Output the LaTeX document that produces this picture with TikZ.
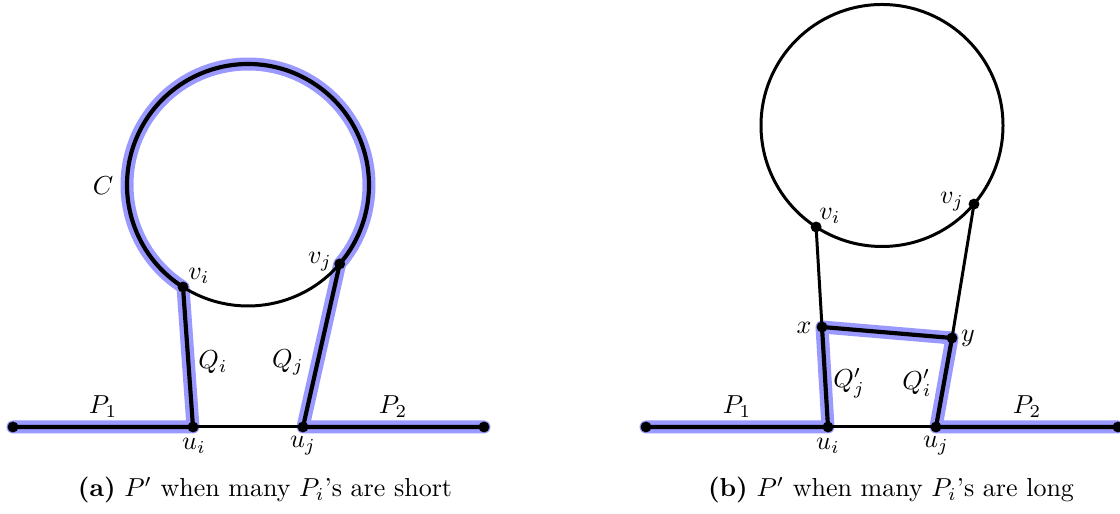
\documentclass[tikz,border=0pt]{standalone}
\usetikzlibrary{calc}
\pgfdeclarelayer{bg}
\pgfsetlayers{bg,main}
\definecolor{hlblue}{RGB}{153,153,255}
\begin{document}
\begin{tikzpicture}[x=0.3846pt,y=-0.3846pt,
  vtx/.style={circle,fill=black,inner sep=0pt,minimum size=4.2pt},
  hl/.style={draw=hlblue,line width=5pt,line join=round,line cap=round},
  ppath/.style={draw=black,line width=1.6pt,line join=round},
  edge/.style={draw=black,line width=1.15pt},
  lbl/.style={inner sep=0pt}]
\useasboundingbox (0,0) rectangle (1120,514);

% ---------- left panel ----------
\coordinate (Lc) at (248,185);
\node[vtx] (La) at (13,427) {};
\node[vtx] (Lb) at (484,427) {};
\node[vtx] (Lui) at (193,427) {};
\node[vtx] (Luj) at (303,427) {};
\node[vtx] (Lvi) at ($(Lc)+(122.5:121)$) {};
\node[vtx] (Lvj) at ($(Lc)+(40.7:121)$) {};

\begin{pgfonlayer}{bg}
\path[hl] (La.center) -- (Lui.center) -- (Lvi.center)
  arc[start angle=122.5,end angle=400.7,radius=121] -- (Luj.center) -- (Lb.center);
\path[ppath] (La.center) -- (Lui.center) -- (Lvi.center)
  arc[start angle=122.5,end angle=400.7,radius=121] -- (Luj.center) -- (Lb.center);
\draw[edge] (Lvi.center) arc[start angle=122.5,end angle=40.7,radius=121];
\draw[edge] (Lui.center) -- (Luj.center);
\end{pgfonlayer}

\node[lbl] (LC) at (103,186) {$C$};
\node[lbl] (Lvil) at (199,276) {$v_i$};
\node[lbl] (Lvjl) at (320,262) {$v_j$};
\node[lbl] (LQi) at (213,362) {$Q_i$};
\node[lbl] (LQj) at (288,362) {$Q_j$};
\node[lbl] (LP1) at (103,407) {$P_1$};
\node[lbl] (LP2) at (393,407) {$P_2$};
\node[lbl] (Luil) at (194,446) {$u_i$};
\node[lbl] (Lujl) at (303,446) {$u_j$};

% ---------- right panel ----------
\coordinate (Rc) at (882,125.5);
\draw[edge] (Rc) circle[radius=121];
\node[vtx] (Ra) at (646,427) {};
\node[vtx] (Rb) at (1118,427) {};
\node[vtx] (Rui) at (828,427) {};
\node[vtx] (Ruj) at (936,427) {};
\node[vtx] (Rx) at (822,327) {};
\node[vtx] (Ry) at (952,338) {};
\node[vtx] (Rvi) at ($(Rc)+(123:121)$) {};
\node[vtx] (Rvj) at ($(Rc)+(40.5:121)$) {};

\begin{pgfonlayer}{bg}
\path[hl] (Ra.center) -- (Rui.center) -- (Rx.center) -- (Ry.center) -- (Ruj.center) -- (Rb.center);
\path[ppath] (Ra.center) -- (Rui.center) -- (Rx.center) -- (Ry.center) -- (Ruj.center) -- (Rb.center);
\draw[edge] (Rvi.center) -- (Rx.center);
\draw[edge] (Rvj.center) -- (Ry.center);
\draw[edge] (Rui.center) -- (Ruj.center);
\end{pgfonlayer}

\node[lbl] (Rvil) at (830,216) {$v_i$};
\node[lbl] (Rvjl) at (952,202) {$v_j$};
\node[lbl] (Rxl) at (804,328) {$x$};
\node[lbl] (Ryl) at (968,338) {$y$};
\node[lbl] (RQj) at (849,383) {$Q'_j$};
\node[lbl] (RQi) at (917,383) {$Q'_i$};
\node[lbl] (RP1) at (737,407) {$P_1$};
\node[lbl] (RP2) at (1027,407) {$P_2$};
\node[lbl] (Ruil) at (828,446) {$u_i$};
\node[lbl] (Rujl) at (936,446) {$u_j$};

% ---------- captions ----------
\node[anchor=base] (capa) at (265,497) {\textbf{(a)} $P'$ when many $P_i$'s are short};
\node[anchor=base] (capb) at (891,497) {\textbf{(b)} $P'$ when many $P_i$'s are long};
\end{tikzpicture}
\end{document}
